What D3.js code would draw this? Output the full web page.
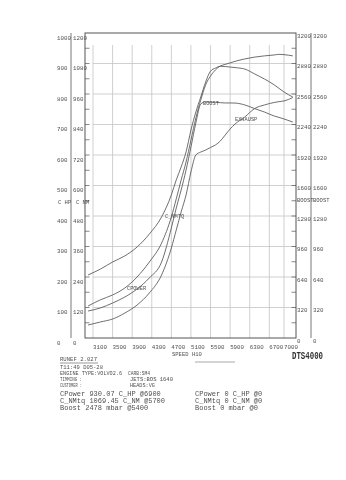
<!DOCTYPE html>
<html><head><meta charset="utf-8">
<script src="https://cdn.jsdelivr.net/npm/d3@7"></script>
<style>
body{margin:0;background:#fff}
svg{display:block;filter:grayscale(1)}
text{font-family:"Liberation Mono","DejaVu Sans Mono",monospace;fill:#505050}
</style></head><body><svg id="c" width="346" height="480"></svg>
<script>
// ---- data ----
const rpmTicks=[3100,3500,3900,4300,4700,5100,5500,5900,6300,6700,7000];
const hpTicks=[0,100,200,300,400,500,600,700,800,900,1000];
const nmTicks=[0,120,240,360,480,600,720,840,960,1080,1200];
const boostTicks=[0,320,640,960,1280,1600,1920,2240,2560,2880,3200];
const rpm=[3000,3250,3500,3750,4000,4250,4500,4700,4800,4900,5000,5100,5200,5300,5400,5500,5600,5700,5800,5900,6000,6200,6400,6600,6800,6900,7000,7180];
const powerHP=[105,125,141,164,200,249,311,397,456,518,577,649,721,780,830,859,879,892,897,902,907,915,921,925,928,930,929,925];
const torqueNm=[248,271,299,323,358,409,476,563,622,673,732,818,889,948,1007,1050,1062,1069,1068,1066,1064,1058,1039,1019,996,982,968,948];
const boostMbar=[283,315,367,430,514,630,797,1154,1364,1553,1762,2004,2256,2455,2478,2475,2472,2469,2466,2466,2465,2445,2407,2371,2329,2314,2298,2266];
const exhaustMbar=[136,168,199,262,346,472,661,944,1133,1322,1500,1742,1920,1951,1972,1999,2025,2067,2130,2193,2245,2319,2407,2445,2471,2480,2487,2523];
const headerLines=["RUNEF 2.027","T11:49 D05-28","ENGINE TYPE:VOLVO2.6","TIMMING  :","CUSTOMER :"];
const headerLen=[37,43,62,22,22];
const headerRight=["","","CARB:SM4","JETS:BOS 1640","HEADS:VG"];
const headerRightLen=[0,0,22,43,25];
const statsLeft=["CPower 930.07 C_HP @6900","C_NMtq 1069.45 C_NM @5700","Boost 2478 mbar @5400"];
const statsRight=["CPower 0 C_HP @0","C_NMtq 0 C_NM @0","Boost 0 mbar @0"];

// ---- scales ----
const svg=d3.select("#c");
const x=d3.scaleLinear().domain([3100,7000]).range([93,284]);
const yHP=d3.scaleLinear().domain([0,1000]).range([338,33]);
const yNm=d3.scaleLinear().domain([0,1200]).range([338,33]);
const yB=d3.scaleLinear().domain([0,3200]).range([338,33]);
const L=85,R=296,T=33,B=338;
const grid="#c4c4c4",ink="#555";

// grid
svg.append("g").selectAll("line").data(rpmTicks).join("line")
  .attr("x1",d=>x(d)).attr("x2",d=>x(d)).attr("y1",45).attr("y2",B)
  .attr("stroke",grid).attr("stroke-width",0.8);
svg.append("g").selectAll("line").data(hpTicks.filter(d=>d>0&&d<1000)).join("line")
  .attr("x1",x(3100)).attr("x2",R).attr("y1",d=>yHP(d)).attr("y2",d=>yHP(d))
  .attr("stroke",grid).attr("stroke-width",0.8);

// minor ticks on frame
const minor=d3.range(50,1000,50);
svg.append("g").selectAll("line").data(minor).join("line")
  .attr("x1",L).attr("x2",L+4.5).attr("y1",d=>yHP(d)).attr("y2",d=>yHP(d))
  .attr("stroke",ink).attr("stroke-width",0.7);
svg.append("g").selectAll("line").data(minor).join("line")
  .attr("x1",R-4.5).attr("x2",R).attr("y1",d=>yHP(d)).attr("y2",d=>yHP(d))
  .attr("stroke",ink).attr("stroke-width",0.7);

// frame
svg.append("rect").attr("x",L).attr("y",T).attr("width",R-L).attr("height",B-T)
  .attr("fill","none").attr("stroke",ink).attr("stroke-width",1);
svg.append("line").attr("x1",71).attr("x2",71).attr("y1",T).attr("y2",B).attr("stroke",ink).attr("stroke-width",0.8);
svg.append("line").attr("x1",311).attr("x2",311).attr("y1",T).attr("y2",B).attr("stroke",ink).attr("stroke-width",0.8);

// axis labels
const fs=5.8;
svg.append("g").selectAll("text").data(hpTicks).join("text")
  .attr("x",57).attr("y",d=>yHP(d)+6.5).attr("font-size",fs).text(d=>d);
svg.append("g").selectAll("text").data(nmTicks).join("text")
  .attr("x",73).attr("y",d=>yNm(d)+6.5).attr("font-size",fs).text(d=>d);
svg.append("g").selectAll("text").data(boostTicks).join("text")
  .attr("x",297).attr("y",d=>yB(d)+4.5).attr("font-size",fs).text(d=>d);
svg.append("g").selectAll("text").data(boostTicks).join("text")
  .attr("x",313).attr("y",d=>yB(d)+4.5).attr("font-size",fs).text(d=>d);
svg.append("g").selectAll("text").data(rpmTicks).join("text")
  .attr("x",d=>x(d)).attr("y",348.5).attr("font-size",fs).text(d=>d);

svg.append("text").attr("x",58).attr("y",203.5).attr("font-size",5.5).text("C HP");
svg.append("text").attr("x",76).attr("y",203.5).attr("font-size",5.5).text("C NM");
svg.append("text").attr("x",297).attr("y",202).attr("font-size",5.5).text("BOOST");
svg.append("text").attr("x",313).attr("y",202).attr("font-size",5.5).text("BOOST");
svg.append("text").attr("x",172).attr("y",356).attr("font-size",5.5).text("SPEED");
svg.append("text").attr("x",192).attr("y",356).attr("font-size",5.5).text("H10");
svg.append("text").attr("x",292).attr("y",358.5).attr("font-size",10).attr("font-weight","bold")
  .attr("font-family","'DejaVu Sans Condensed','DejaVu Sans',sans-serif").style("fill","#333")
  .attr("textLength",31).attr("lengthAdjust","spacingAndGlyphs").text("DTS4000");

// curves
const series=[
  {v:powerHP,y:yHP,label:"CPOWER",lx:127,ly:290},
  {v:torqueNm,y:yNm,label:"C_NMTQ",lx:165,ly:218},
  {v:boostMbar,y:yB,label:"BOOST",lx:203,ly:104.5},
  {v:exhaustMbar,y:yB,label:"EXHAUSP",lx:235,ly:121}
];
series.forEach(s=>{
  const line=d3.line().x((d,i)=>x(rpm[i])).y(d=>s.y(d)).curve(d3.curveMonotoneX);
  svg.append("path").attr("d",line(s.v)).attr("fill","none").attr("stroke",ink).attr("stroke-width",0.85);
  svg.append("text").attr("x",s.lx).attr("y",s.ly).attr("font-size",5.3).text(s.label);
});

// header block
const hy=[361,368.5,374.5,381,387];
svg.append("g").selectAll("text").data(headerLines).join("text")
  .attr("x",60).attr("y",(d,i)=>hy[i]).attr("font-size",5.2)
  .attr("textLength",(d,i)=>headerLen[i]).attr("lengthAdjust","spacingAndGlyphs").text(d=>d);
svg.append("g").selectAll("text").data(headerRight.filter(d=>d)).join("text")
  .attr("x",(d,i)=>i===0?128:130).attr("y",(d,i)=>hy[i+2]).attr("font-size",5.2)
  .attr("textLength",(d,i)=>headerRightLen[i+2]).attr("lengthAdjust","spacingAndGlyphs").text(d=>d);
svg.append("line").attr("x1",60).attr("x2",98).attr("y1",363).attr("y2",363).attr("stroke",ink).attr("stroke-width",0.6);
svg.append("line").attr("x1",195).attr("x2",235).attr("y1",362).attr("y2",362).attr("stroke","#aaa").attr("stroke-width",1.2);

// stats
const sy=[395.5,402.5,409.5];
svg.append("g").selectAll("text").data(statsLeft).join("text")
  .attr("x",60).attr("y",(d,i)=>sy[i]).attr("font-size",7).text(d=>d);
svg.append("g").selectAll("text").data(statsRight).join("text")
  .attr("x",195).attr("y",(d,i)=>sy[i]).attr("font-size",7).text(d=>d);
</script></body></html>
